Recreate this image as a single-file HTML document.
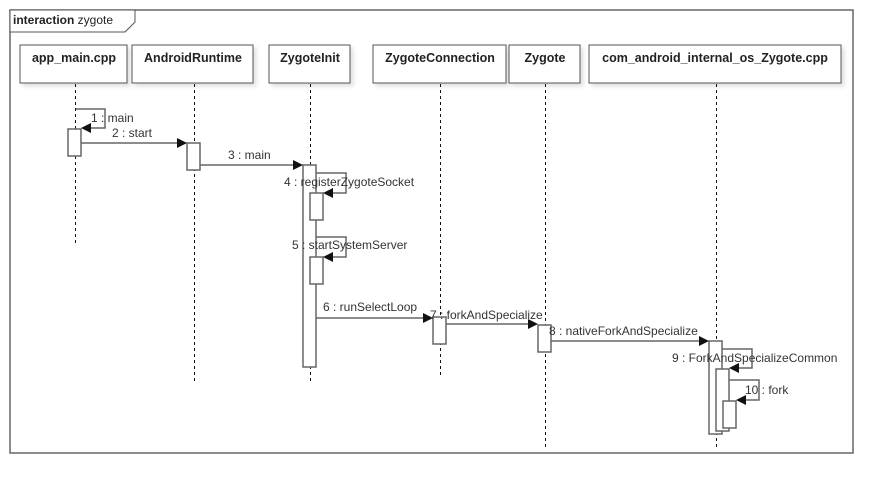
<!DOCTYPE html>
<html><head><meta charset="utf-8"><style>
html,body{margin:0;padding:0;background:#fff;}
svg{display:block;font-family:"Liberation Sans",Arial,sans-serif;}
</style></head><body>
<svg width="893" height="493" viewBox="0 0 893 493" xmlns="http://www.w3.org/2000/svg">
<defs><filter id="sh" x="-10%" y="-10%" width="130%" height="140%"><feDropShadow dx="3" dy="3" stdDeviation="2" flood-color="#000" flood-opacity="0.12"/></filter></defs>
<rect x="10" y="10" width="843" height="443" fill="none" stroke="#666" stroke-width="1.5"/>
<path d="M10 10 H135 V22 L125 32 H10 Z" fill="#fff" stroke="#555" stroke-width="1"/>
<text x="13" y="24" font-size="12" fill="#222"><tspan font-weight="bold">interaction</tspan> zygote</text>
<g fill="#fff" stroke="#555" stroke-width="1" filter="url(#sh)">
<rect x="20" y="45" width="107" height="38"/>
<rect x="132" y="45" width="121" height="38"/>
<rect x="269" y="45" width="81" height="38"/>
<rect x="373" y="45" width="133" height="38"/>
<rect x="509" y="45" width="71" height="38"/>
<rect x="589" y="45" width="252" height="38"/>
</g>
<g font-size="12.5" font-weight="bold" fill="#222" text-anchor="middle">
<text x="74" y="62">app_main.cpp</text>
<text x="193" y="62">AndroidRuntime</text>
<text x="310" y="62">ZygoteInit</text>
<text x="440" y="62">ZygoteConnection</text>
<text x="545" y="62">Zygote</text>
<text x="715" y="62">com_android_internal_os_Zygote.cpp</text>
</g>
<g stroke="#111" stroke-width="1" stroke-dasharray="3,3">
<line x1="75.5" y1="84" x2="75.5" y2="244"/>
<line x1="194.5" y1="84" x2="194.5" y2="383"/>
<line x1="310.5" y1="84" x2="310.5" y2="383"/>
<line x1="440.5" y1="84" x2="440.5" y2="376"/>
<line x1="545.5" y1="84" x2="545.5" y2="449"/>
<line x1="716.5" y1="84" x2="716.5" y2="449"/>
</g>
<g fill="#fff" stroke="#666" stroke-width="1.5">
<rect x="68" y="129" width="13" height="27"/>
<rect x="187" y="143" width="13" height="27"/>
<rect x="303" y="165" width="13" height="202"/>
<rect x="310" y="193" width="13" height="27"/>
<rect x="310" y="257" width="13" height="27"/>
<rect x="433" y="317" width="13" height="27"/>
<rect x="538" y="325" width="13" height="27"/>
<rect x="709" y="341" width="13" height="93"/>
<rect x="716" y="369" width="13" height="62"/>
<rect x="723" y="401" width="13" height="27"/>
</g>
<g stroke="#666" stroke-width="1.5" fill="none">
<polyline points="76,109 105,109 105,128 86,128"/>
<line x1="81" y1="143" x2="180" y2="143"/>
<line x1="200" y1="165" x2="296" y2="165"/>
<polyline points="316,173 346,173 346,193 329,193"/>
<polyline points="316,237 346,237 346,257 329,257"/>
<line x1="316" y1="318" x2="427" y2="318"/>
<line x1="446" y1="324" x2="532" y2="324"/>
<line x1="551" y1="341" x2="702" y2="341"/>
<polyline points="722,349 752,349 752,368 735,368"/>
<polyline points="729,380 759,380 759,400 742,400"/>
</g>
<g fill="#111">
<polygon points="81,128 91,123 91,133"/>
<polygon points="187,143 177,138 177,148"/>
<polygon points="303,165 293,160 293,170"/>
<polygon points="323,193 333,188 333,198"/>
<polygon points="323,257 333,252 333,262"/>
<polygon points="433,318 423,313 423,323"/>
<polygon points="538,324 528,319 528,329"/>
<polygon points="709,341 699,336 699,346"/>
<polygon points="729,368 739,363 739,373"/>
<polygon points="736,400 746,395 746,405"/>
</g>
<g font-size="12" fill="#333">
<text x="91" y="122">1 : main</text>
<text x="112" y="137">2 : start</text>
<text x="228" y="159">3 : main</text>
<text x="284" y="186">4 : registerZygoteSocket</text>
<text x="292" y="249">5 : startSystemServer</text>
<text x="323" y="311">6 : runSelectLoop</text>
<text x="430" y="319">7 : forkAndSpecialize</text>
<text x="549" y="335">8 : nativeForkAndSpecialize</text>
<text x="672" y="362">9 : ForkAndSpecializeCommon</text>
<text x="745" y="394">10 : fork</text>
</g>
</svg>
</body></html>
